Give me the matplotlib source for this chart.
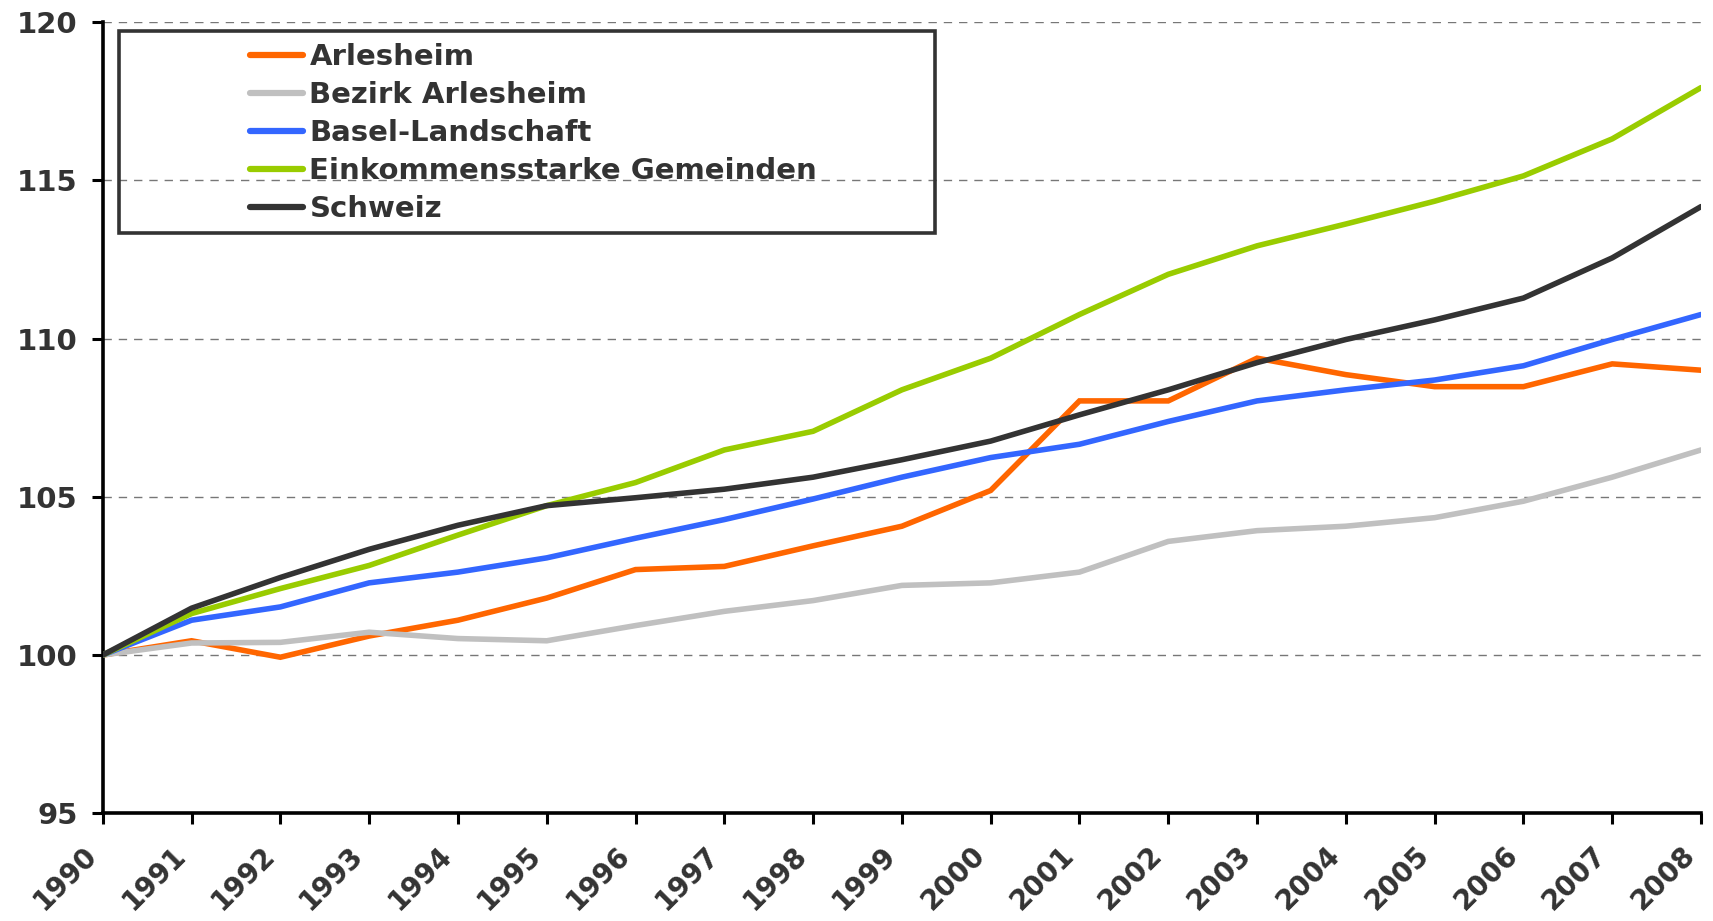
import numpy as np
import matplotlib
matplotlib.use("Agg")
import matplotlib.pyplot as plt
from matplotlib.patches import Rectangle
from matplotlib.transforms import ScaledTranslation

YEARS = list(range(1990, 2009))

ARLESHEIM = [100.0, 100.45, 99.93, 100.6, 101.1, 101.8, 102.7, 102.8, 103.45, 104.07,
             105.2, 108.03, 108.03, 109.38, 108.86, 108.48, 108.48, 109.2, 109.0]
BEZIRK = [100.0, 100.38, 100.4, 100.72, 100.52, 100.45, 100.93, 101.38, 101.72, 102.2,
          102.28, 102.62, 103.59, 103.93, 104.07, 104.34, 104.86, 105.62, 106.48]
BASEL_LAND = [100.0, 101.1, 101.52, 102.28, 102.62, 103.07, 103.69, 104.28, 104.93, 105.62,
              106.24, 106.66, 107.38, 108.03, 108.38, 108.69, 109.14, 109.97, 110.76]
EINKOMMEN = [100.0, 101.31, 102.1, 102.83, 103.79, 104.72, 105.45, 106.48, 107.07, 108.38,
             109.38, 110.76, 112.03, 112.93, 113.62, 114.34, 115.14, 116.31, 117.93]
SCHWEIZ = [100.0, 101.48, 102.45, 103.34, 104.1, 104.72, 104.97, 105.24, 105.62, 106.17,
           106.76, 107.59, 108.38, 109.24, 109.97, 110.59, 111.28, 112.55, 114.17]

SERIES = [
    ("Arlesheim", ARLESHEIM, "#FF6600"),
    ("Bezirk Arlesheim", BEZIRK, "#C0C0C0"),
    ("Basel-Landschaft", BASEL_LAND, "#3366FF"),
    ("Einkommensstarke Gemeinden", EINKOMMEN, "#99CC00"),
    ("Schweiz", SCHWEIZ, "#333333"),
]

TEXT = "#333333"

plt.rcParams["font.family"] = ["DejaVu Sans"]
plt.rcParams["font.weight"] = "bold"

fig = plt.figure(figsize=(17.13, 9.21), dpi=100)
ax = fig.add_axes([0.060, 0.117, 0.933, 0.859])

for name, vals, col in SERIES:
    ax.plot(YEARS, vals, color=col, lw=4.0, label=name, solid_capstyle="round",
            solid_joinstyle="miter", zorder=3)

ax.set_xlim(1990, 2008)
ax.set_ylim(95, 120)
ax.set_yticks(np.arange(95, 121, 5))
ax.set_xticks(YEARS)
ax.set_xticklabels([str(y) for y in YEARS], rotation=45, ha="right",
                   fontsize=20, color=TEXT, fontweight="bold")
# shift the rotated year labels a bit left of their ticks, like the original
shift = ScaledTranslation(-10 / 100, 0, fig.dpi_scale_trans)
for lab in ax.get_xticklabels():
    lab.set_transform(lab.get_transform() + shift)
for lab in ax.get_yticklabels():
    lab.set_fontsize(21)
    lab.set_color(TEXT)
    lab.set_fontweight("bold")

for y in range(100, 121, 5):
    ax.axhline(y, color="#777777", lw=1.0, ls=(0, (6, 5)), zorder=1)

for s in ["top", "right"]:
    ax.spines[s].set_visible(False)
for s in ["left", "bottom"]:
    ax.spines[s].set_linewidth(2.6)
    ax.spines[s].set_color("black")
ax.tick_params(axis="x", direction="out", length=8, width=2.2, pad=12)
ax.tick_params(axis="y", direction="out", length=8, width=2.2, pad=10)

# legend with its own frame box
ax.add_patch(Rectangle((0.010, 0.733), 0.511, 0.256, transform=ax.transAxes,
                       fill=False, ec="#333333", lw=2.6, zorder=5, clip_on=False))
leg = ax.legend(loc="upper left", bbox_to_anchor=(0.076, 1.007), frameon=False,
                handlelength=1.8, handletextpad=0.22, labelspacing=0.345,
                prop={"weight": "bold", "size": 21})
for t in leg.get_texts():
    t.set_color(TEXT)
for h in leg.get_lines():
    h.set_linewidth(4.5)

fig.savefig("out.png", dpi=100, facecolor="white")
